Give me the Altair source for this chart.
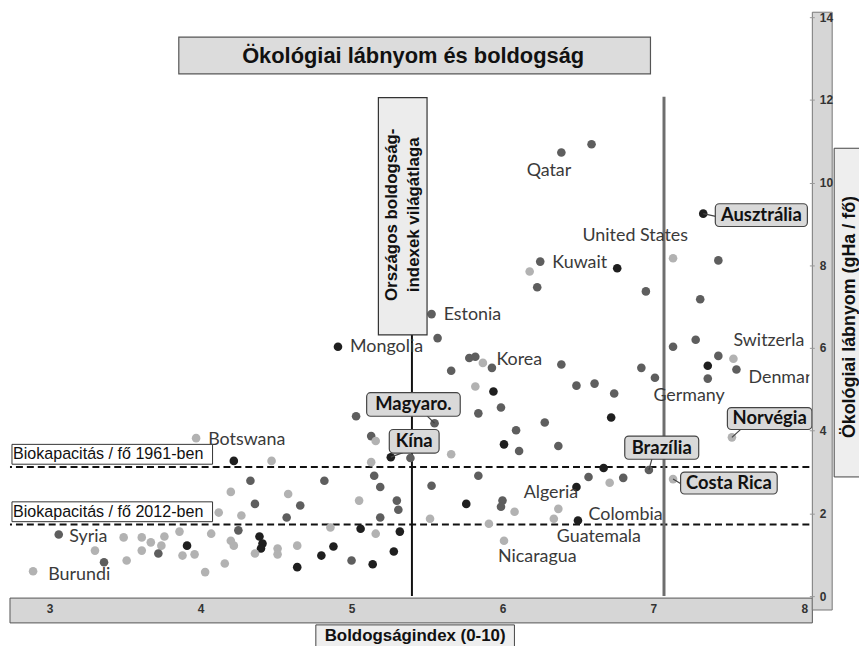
import altair as alt
import pandas as pd

# ---------------- data ----------------
happiness = [2.89, 3.36, 3.06, 3.30, 3.49, 3.61, 3.67, 3.74, 3.76, 3.86, 3.91, 3.72, 3.61, 3.51, 3.88,
             3.96, 4.03, 4.07, 3.97, 4.22, 4.47, 4.33, 4.20, 4.36, 4.12, 4.27, 4.58, 4.66, 4.57, 4.82,
             4.25, 4.20, 4.22, 4.39, 4.41, 4.40, 4.51, 4.51, 4.36, 4.64, 4.16, 4.64, 4.80, 4.88, 5.00,
             5.14, 5.28, 5.32, 5.06, 5.16, 4.86, 5.05, 5.30, 5.31, 5.19, 5.19, 5.15, 5.13, 5.26, 5.39,
             5.13, 5.16, 5.03, 5.55, 5.84, 5.99, 5.82, 5.94, 6.28, 6.72, 6.09, 6.01, 6.11, 6.37, 5.66,
             6.67, 6.97, 5.84, 6.57, 6.71, 6.80, 6.49, 7.13, 5.53, 5.76, 6.00, 5.99, 6.08, 6.37, 6.34,
             6.50, 5.52, 5.91, 6.01,
             4.91, 5.53, 5.57, 5.78, 5.82, 5.87, 5.93, 5.66, 6.39, 6.49, 6.61, 6.74, 6.23, 6.39, 6.59,
             7.33, 7.13, 7.43, 6.25, 6.18, 6.76, 6.95, 7.31, 7.28, 7.13, 6.92, 7.01, 7.43, 7.53, 7.36,
             7.55, 7.36, 7.52]
footprint = [0.60, 0.82, 1.49, 1.10, 1.42, 1.42, 1.30, 1.22, 1.44, 1.56, 1.22, 1.03, 1.10, 0.86, 0.98,
             1.01, 0.58, 1.51, 3.82, 3.27, 3.27, 2.79, 2.52, 2.23, 2.02, 1.95, 2.47, 2.19, 1.90, 2.79,
             1.59, 1.34, 1.22, 1.44, 1.27, 1.15, 1.15, 1.01, 1.03, 1.22, 0.79, 0.70, 0.98, 1.20, 0.86,
             0.77, 1.08, 1.56, 1.63, 1.51, 1.66, 2.31, 2.31, 2.09, 1.90, 2.64, 2.91, 3.24, 3.36, 3.34,
             3.87, 3.75, 4.35, 4.18, 4.42, 4.56, 5.07, 4.95, 4.20, 4.32, 4.01, 3.67, 3.51, 3.63, 3.43,
             3.10, 3.05, 2.91, 2.88, 2.74, 2.86, 2.64, 2.83, 2.67, 2.23, 2.31, 2.16, 2.04, 2.11, 1.87,
             1.83, 1.87, 1.75, 1.34,
             6.03, 6.82, 6.24, 5.76, 5.79, 5.64, 5.52, 5.45, 5.60, 5.09, 5.14, 4.90, 7.47, 10.73, 10.93,
             9.25, 8.17, 8.12, 8.09, 7.85, 7.93, 7.37, 7.18, 6.20, 6.03, 5.52, 5.28, 5.81, 5.74, 5.57,
             5.48, 5.26, 3.84]
shade = ["l", "m", "m", "l", "l", "l", "l", "l", "l", "l", "k", "m", "l", "l", "l",
         "l", "l", "l", "l", "k", "l", "m", "l", "m", "l", "l", "l", "m", "m", "m",
         "m", "l", "l", "k", "k", "k", "l", "l", "l", "l", "l", "k", "k", "k", "m",
         "k", "k", "k", "k", "l", "l", "l", "m", "m", "m", "m", "m", "l", "k", "m",
         "m", "l", "m", "m", "m", "m", "l", "k", "m", "k", "m", "k", "m", "m", "l",
         "k", "m", "m", "m", "l", "m", "k", "l", "m", "k", "m", "m", "l", "l", "l",
         "k", "l", "l", "l",
         "k", "m", "m", "m", "m", "l", "m", "m", "m", "m", "m", "m", "m", "m", "m",
         "k", "l", "m", "m", "l", "k", "m", "m", "m", "m", "m", "m", "m", "l", "k",
         "m", "m", "l"]

label_names = ["Syria", "Burundi", "Botswana", "Qatar", "United States", "Kuwait", "Estonia",
               "Mongolia", "Korea", "Germany", "Algeria", "Colombia", "Guatemala", "Nicaragua"]
label_x = [3.13, 2.99, 4.05, 6.16, 6.53, 6.33, 5.61, 4.99, 5.96, 7.00, 6.14, 6.57, 6.36, 5.97]
label_y = [1.44, 0.50, 3.77, 10.28, 8.72, 8.05, 6.80, 6.03, 5.72, 4.83, 2.50, 1.97, 1.44, 0.94]

# labels cut off by the right edge of the plot
edge_names = ["Switzerland", "Denmark"]
edge_x = [7.53, 7.63]
edge_y = [6.17, 5.28]

callout_names = ["Ausztrália", "Magyaro.", "Kína", "Brazília", "Costa Rica", "Norvégia"]
callout_dot_x = [7.33, 5.55, 5.26, 6.97, 7.13, 7.52]
callout_dot_y = [9.25, 4.18, 3.36, 3.05, 2.83, 3.84]

biocap_names = ["Biokapacitás / fő 1961-ben", "Biokapacitás / fő 2012-ben"]
biocap_values = [3.12, 1.73]

world_avg_happiness = 5.40
right_line_x = 7.07

x_ticks = [3, 4, 5, 6, 7, 8]
y_ticks = [0, 2, 4, 6, 8, 10, 12, 14]

# ---------------- annotation layout ----------------
callout_box = pd.DataFrame({
    "name": callout_names,
    "x1": [7.41, 5.10, 5.25, 6.81, 7.18, 7.49],
    "x2": [8.02, 5.72, 5.58, 7.30, 7.82, 8.05],
    "y1": [8.94, 4.35, 3.46, 3.31, 2.47, 4.03],
    "y2": [9.49, 4.92, 4.03, 3.87, 3.00, 4.56],
})
callout_box["cx"] = (callout_box["x1"] + callout_box["x2"]) / 2
callout_box["cy"] = (callout_box["y1"] + callout_box["y2"]) / 2
pointer = pd.DataFrame({
    "x": callout_dot_x, "y": callout_dot_y,
    "x2": [7.42, 5.50, 5.34, 6.99, 7.19, 7.58],
    "y2": [9.18, 4.36, 3.47, 3.32, 2.70, 4.04],
})

W, H = 805, 590
XD = [2.737, 8.033]
YD = [0, 14.17]
xs = alt.Scale(domain=XD, nice=False, zero=False)
ys = alt.Scale(domain=YD, nice=False, zero=False)

pts = pd.DataFrame({"x": happiness, "y": footprint, "shade": shade})
labels = pd.DataFrame({"name": label_names, "x": label_x, "y": label_y})
edge = pd.DataFrame({"name": edge_names, "x": edge_x, "y": edge_y})
bio = pd.DataFrame({"name": biocap_names, "y": biocap_values})
one = pd.DataFrame({"k": [0]})

SANS = "Liberation Sans"
LAB = "Lato"

axes = alt.Chart(pts).mark_point(opacity=0).encode(
    x=alt.X("x:Q", scale=xs, title=None,
            axis=alt.Axis(values=x_ticks, format="d", orient="bottom", domain=False, ticks=False,
                          grid=False, labelPadding=8, labelFont=SANS, labelFontWeight="bold",
                          labelFontSize=12, labelColor="#333", zindex=2)),
    y=alt.Y("y:Q", scale=ys, title=None,
            axis=alt.Axis(values=y_ticks, format="d", orient="right", domain=False, ticks=True,
                          tickSize=5, tickColor="#999", grid=False, labelPadding=5, labelFont=SANS,
                          labelFontWeight="bold", labelFontSize=12, labelColor="#333",
                          labelAlign="left", zindex=2)),
)

xband = alt.Chart(one).mark_rect(fill="#d6d6d6", stroke="#555", strokeWidth=1).encode(
    x=alt.value(0), x2=alt.value(W + 3), y=alt.value(H + 2), y2=alt.value(H + 27))
yband = alt.Chart(one).mark_rect(fill="#d6d6d6", stroke="#777", strokeWidth=1).encode(
    x=alt.value(W + 3), x2=alt.value(W + 23), y=alt.value(2), y2=alt.value(H + 14))

tbox = alt.Chart(one).mark_rect(fill="#dcdcdc", stroke="#555", strokeWidth=1.2).encode(
    x=alt.value(170), x2=alt.value(645), y=alt.value(27), y2=alt.value(64))
ttext = alt.Chart(one).mark_text(text="Ökológiai lábnyom és boldogság", font=SANS, fontWeight="bold",
                                 fontSize=22, color="#111", align="center", baseline="middle").encode(
    x=alt.value(406), y=alt.value(46))

xtbox = alt.Chart(one).mark_rect(fill="#eeeeee", stroke="#444", strokeWidth=1).encode(
    x=alt.value(308), x2=alt.value(508), y=alt.value(619), y2=alt.value(641))
xttext = alt.Chart(one).mark_text(text="Boldogságindex (0-10)", font=SANS, fontWeight="bold",
                                  fontSize=17, color="#111", align="center", baseline="middle").encode(
    x=alt.value(408), y=alt.value(630.5))

ytbox = alt.Chart(one).mark_rect(fill="#eeeeee", stroke="#444", strokeWidth=1).encode(
    x=alt.value(830), x2=alt.value(880), y=alt.value(139), y2=alt.value(470))
yttext = alt.Chart(one).mark_text(text="Ökológiai lábnyom (gHa / fő)", font=SANS, fontWeight="bold",
                                  fontSize=18, color="#111", align="center", baseline="middle",
                                  angle=270).encode(
    x=alt.value(846), y=alt.value(309))

dashed = alt.Chart(bio).mark_rule(color="#111", strokeWidth=2, strokeDash=[7, 4]).encode(
    y=alt.Y("y:Q", scale=ys))
bio_rect = alt.Chart(bio).transform_calculate(
    top="datum.y + 0.55", bot="datum.y + 0.07").mark_rect(
    fill="white", stroke="#333", strokeWidth=1).encode(
    x=alt.value(2), x2=alt.value(204),
    y=alt.Y("top:Q", scale=ys), y2="bot:Q")
bio_text = alt.Chart(bio).transform_calculate(ty="datum.y + 0.31").mark_text(
    font=SANS, fontSize=16.2, color="#111", align="left", baseline="middle").encode(
    x=alt.value(3), y=alt.Y("ty:Q", scale=ys), text="name:N")

vline = alt.Chart(pd.DataFrame({"x": [world_avg_happiness], "y": [0], "y2": [6.4]})).mark_rule(
    color="#111", strokeWidth=2).encode(x=alt.X("x:Q", scale=xs), y=alt.Y("y:Q", scale=ys), y2="y2:Q")
gline = alt.Chart(pd.DataFrame({"x": [right_line_x], "y": [0], "y2": [12.08]})).mark_rule(
    color="#6e6e6e", strokeWidth=3).encode(x=alt.X("x:Q", scale=xs), y=alt.Y("y:Q", scale=ys), y2="y2:Q")

vbox = alt.Chart(one).mark_rect(fill="#ececec", stroke="#333", strokeWidth=1.2).encode(
    x=alt.value(371), x2=alt.value(420), y=alt.value(88), y2=alt.value(327))
vtext1 = alt.Chart(one).mark_text(text="Országos boldogság-", font=SANS, fontWeight="bold", fontSize=17,
                                  color="#111", align="center", baseline="middle", angle=270).encode(
    x=alt.value(385), y=alt.value(206))
vtext2 = alt.Chart(one).mark_text(text="indexek világátlaga", font=SANS, fontWeight="bold", fontSize=17,
                                  color="#111", align="center", baseline="middle", angle=270).encode(
    x=alt.value(407), y=alt.value(206))

dots = alt.Chart(pts).mark_circle(size=75, opacity=1).encode(
    x=alt.X("x:Q", scale=xs), y=alt.Y("y:Q", scale=ys),
    color=alt.Color("shade:N", scale=alt.Scale(domain=["k", "m", "l"],
                                               range=["#1f1f1f", "#5e5e5e", "#b2b2b2"]), legend=None))

lab = alt.Chart(labels).mark_text(font=LAB, fontSize=18, color="#3a3a3a", align="left",
                                  baseline="middle", clip=True).encode(
    x=alt.X("x:Q", scale=xs), y=alt.Y("y:Q", scale=ys), text="name:N")
lab_sw = alt.Chart(edge.iloc[[0]]).mark_text(font=LAB, fontSize=18, color="#3a3a3a", align="left",
                                             baseline="middle", clip=True, limit=79,
                                             ellipsis="\u200b").encode(
    x=alt.X("x:Q", scale=xs), y=alt.Y("y:Q", scale=ys), text="name:N")
lab_dk = alt.Chart(edge.iloc[[1]]).mark_text(font=LAB, fontSize=18, color="#3a3a3a", align="left",
                                             baseline="middle", clip=True, limit=64,
                                             ellipsis="\u200b").encode(
    x=alt.X("x:Q", scale=xs), y=alt.Y("y:Q", scale=ys), text="name:N")

ptr = alt.Chart(pointer).mark_rule(color="#444", strokeWidth=1.2).encode(
    x=alt.X("x:Q", scale=xs), y=alt.Y("y:Q", scale=ys), x2="x2:Q", y2="y2:Q")
cbox = alt.Chart(callout_box).mark_rect(fill="#d9d9d9", stroke="#444", strokeWidth=1.2,
                                        cornerRadius=4).encode(
    x=alt.X("x1:Q", scale=xs), x2="x2:Q", y=alt.Y("y1:Q", scale=ys), y2="y2:Q")
ctext = alt.Chart(callout_box).mark_text(font=LAB, fontWeight="bold", fontSize=18.5, color="#111",
                                         align="center", baseline="middle").encode(
    x=alt.X("cx:Q", scale=xs), y=alt.Y("cy:Q", scale=ys), text="name:N")

chart = alt.layer(
    axes, dashed, vline, gline, dots, lab, lab_sw, lab_dk, bio_rect, bio_text, vbox, vtext1, vtext2,
    ptr, cbox, ctext, xband, yband, tbox, ttext, xtbox, xttext, ytbox, yttext,
).properties(
    width=W, height=H,
    autosize=alt.AutoSizeParams(type="none"),
    padding={"left": 2, "top": 0, "right": 50, "bottom": 48},
    background="white",
).configure_view(stroke=None)

chart.save("out.html", embed_options={"renderer": "svg", "actions": False})
